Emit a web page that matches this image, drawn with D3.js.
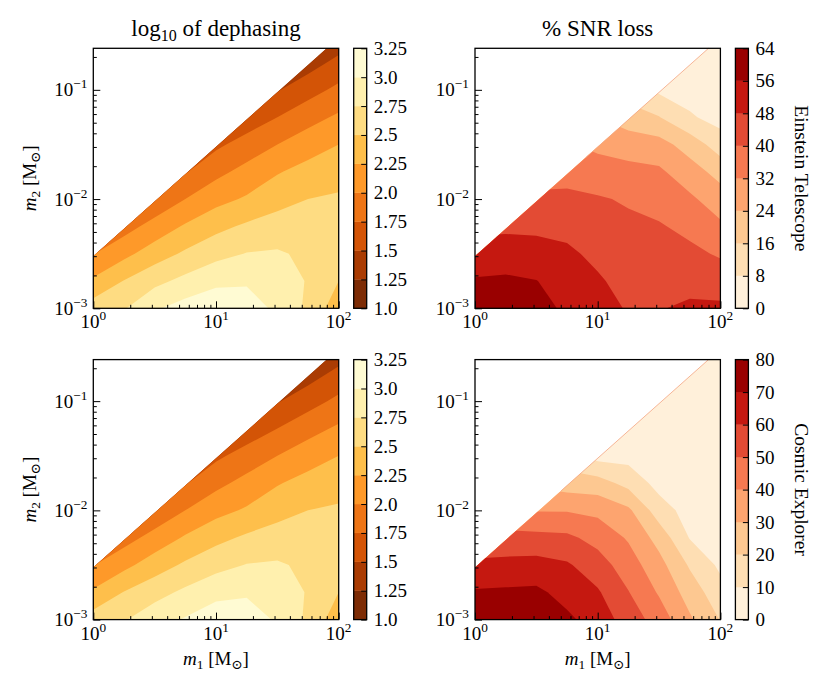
<!DOCTYPE html>
<html>
<head>
<meta charset="utf-8">
<script src="https://cdn.jsdelivr.net/npm/d3@7"></script>
<style>
  body { margin: 0; background: #fff; }
  text { font-family: "Liberation Serif", "DejaVu Serif", serif; fill: #000; }
</style>
</head>
<body>
<script>
// grid of the maps, in log10 of the masses (rows go up in m2)
var logM1 = [0, 0.25, 0.5, 0.75, 1, 1.25, 1.5, 1.75, 2];
var logM2 = [-3, -2.75, -2.5, -2.25, -2, -1.75, -1.5, -1.25, -1, -0.75, -0.5];
var massRatio = 0.003;   // no data above m2 = massRatio * m1
var m1Range = [1, 100];
var m2Range = [1e-3, 0.24];

var dephasingLevels = [1.0, 1.25, 1.5, 1.75, 2.0, 2.25, 2.5, 2.75, 3.0, 3.25];
var dephasingLabels = ["1.0", "1.25", "1.5", "1.75", "2.0", "2.25", "2.5", "2.75", "3.0", "3.25"];
var etLevels = [0, 8, 16, 24, 32, 40, 48, 56, 64];
var etLabels = ["0", "8", "16", "24", "32", "40", "48", "56", "64"];
var ceLevels = [0, 10, 20, 30, 40, 50, 60, 70, 80];
var ceLabels = ["0", "10", "20", "30", "40", "50", "60", "70", "80"];

var xMajor = [1, 10, 100];
var yMajor = [1e-3, 1e-2, 1e-1];

// log10 of dephasing, Einstein Telescope row
var dephasingET = [
  [2.62, 2.73, 2.97, 3.10, 3.15, 3.12, 2.95, 2.70, 2.35],
  [2.29, 2.51, 2.68, 2.82, 2.95, 2.97, 2.90, 2.73, 2.50],
  [1.99, 2.18, 2.38, 2.54, 2.67, 2.76, 2.78, 2.70, 2.60],
  [1.69, 1.90, 2.09, 2.28, 2.43, 2.54, 2.60, 2.60, 2.62],
  [1.39, 1.61, 1.81, 2.00, 2.17, 2.28, 2.42, 2.50, 2.54],
  [1.10, 1.32, 1.53, 1.73, 1.93, 2.08, 2.23, 2.34, 2.38],
  [0.80, 1.03, 1.25, 1.46, 1.70, 1.85, 2.00, 2.13, 2.25],
  [0.50, 0.74, 0.97, 1.19, 1.45, 1.60, 1.75, 1.91, 2.04],
  [0.20, 0.45, 0.69, 0.92, 1.20, 1.33, 1.48, 1.65, 1.81],
  [-0.10, 0.16, 0.41, 0.65, 0.95, 1.07, 1.20, 1.39, 1.57],
  [-0.40, -0.13, 0.13, 0.38, 0.70, 0.80, 0.93, 1.13, 1.32]
];

// log10 of dephasing, Cosmic Explorer row
var dephasingCE = [
  [2.62, 2.73, 2.90, 3.02, 3.14, 3.12, 2.97, 2.70, 2.35],
  [2.29, 2.51, 2.66, 2.80, 2.93, 2.97, 2.90, 2.73, 2.50],
  [1.99, 2.18, 2.38, 2.54, 2.67, 2.76, 2.78, 2.70, 2.60],
  [1.69, 1.90, 2.09, 2.28, 2.43, 2.54, 2.60, 2.60, 2.62],
  [1.39, 1.61, 1.81, 2.00, 2.17, 2.28, 2.42, 2.50, 2.54],
  [1.10, 1.32, 1.53, 1.73, 1.93, 2.08, 2.23, 2.34, 2.38],
  [0.80, 1.03, 1.25, 1.46, 1.70, 1.85, 2.00, 2.13, 2.25],
  [0.50, 0.74, 0.97, 1.19, 1.45, 1.60, 1.75, 1.91, 2.04],
  [0.20, 0.45, 0.69, 0.92, 1.20, 1.33, 1.48, 1.65, 1.81],
  [-0.10, 0.16, 0.41, 0.65, 0.95, 1.07, 1.20, 1.39, 1.57],
  [-0.40, -0.13, 0.13, 0.38, 0.70, 0.80, 0.93, 1.13, 1.32]
];

// % SNR loss, Einstein Telescope
var snrLossET = [
  [60, 60, 59, 54.5, 52.5, 47, 47.5, 49.5, 49.5],
  [56.8, 57.3, 56.2, 52.5, 49, 45.2, 45.2, 45.2, 44.1],
  [51, 51.9, 51.3, 49.5, 46.1, 43.4, 42.8, 41.8, 39.1],
  [46.5, 46.5, 46.3, 45.7, 43.4, 41.5, 40.7, 37.9, 33.4],
  [42, 42, 41.5, 41.6, 40.7, 39.2, 37, 33.4, 27.8],
  [37, 37, 37, 37.5, 35.8, 34.5, 33.3, 27.6, 21.1],
  [32, 32, 32, 33, 30, 28.2, 27, 20.5, 12],
  [27, 27, 27, 28, 24, 20, 16.3, 9, 5],
  [22, 22, 21, 22, 16, 12, 6.5, 4.5, 3.5],
  [17, 17, 15, 15, 9, 6, 4, 3.5, 2.5],
  [12, 12, 9, 9, 5, 3, 3, 2.5, 2]
];

// % SNR loss, Cosmic Explorer
var snrLossCE = [
  [74, 74.5, 75, 72, 65.5, 55.5, 45.5, 31.5, 19.5],
  [71, 71.5, 72, 66.5, 61.1, 50.4, 38.9, 25.6, 13.7],
  [62.5, 63.2, 63.6, 61.2, 54.5, 44.8, 33.5, 18.8, 8],
  [52, 52.7, 52.9, 52.1, 46.6, 38.9, 26.25, 9.5, 5.5],
  [42, 43, 39.5, 39.4, 37.5, 31.9, 14.7, 6, 4],
  [32, 33, 28, 25, 24.2, 16.7, 6.5, 4.5, 3.5],
  [23, 24, 18, 14, 6.5, 6.5, 4.5, 3.5, 3],
  [15, 16, 11, 8, 4, 4, 3.5, 3, 2.5],
  [9, 10, 7, 5, 3, 3, 2.5, 2.5, 2],
  [5, 6, 4, 3, 2, 2, 2, 2, 1.5],
  [3, 4, 2.5, 2, 1.5, 1.5, 1.5, 1.5, 1.5]
];

// colour maps (ColorBrewer nodes, linear in between like matplotlib)
var ylOrBr = ["#ffffe5", "#fff7bc", "#fee391", "#fec44f", "#fe9929", "#ec7014", "#cc4c02", "#993404", "#662506"];
var orRd = ["#fff7ec", "#fee8c8", "#fdd49e", "#fdbb84", "#fc8d59", "#ef6548", "#d7301f", "#b30000", "#7f0000"];

function colorMap(nodes) {
    return d3.scaleLinear()
        .domain(nodes.map(function(c, i) { return i / (nodes.length - 1); }))
        .range(nodes)
        .interpolate(d3.interpolateRgb);
}

var pw = 245.4, ph = 260;
var fs = 19;   // base font size
var svg = d3.select("body").append("svg")
    .attr("width", 830)
    .attr("height", 692);

var panels = [
    {id: "tl", left: 93.3, top: 48.3, values: dephasingET, levels: dephasingLevels, labels: dephasingLabels,
     cmap: colorMap(ylOrBr), reverse: true, title: "dephasing", ylabel: true},
    {id: "tr", left: 475, top: 48.3, values: snrLossET, levels: etLevels, labels: etLabels,
     cmap: colorMap(orRd), reverse: false, title: "snr", cbarLabel: "Einstein Telescope", edgeFrom: 8},
    {id: "bl", left: 93.3, top: 359.6, values: dephasingCE, levels: dephasingLevels, labels: dephasingLabels,
     cmap: colorMap(ylOrBr), reverse: true, ylabel: true, xlabel: true},
    {id: "br", left: 475, top: 359.6, values: snrLossCE, levels: ceLevels, labels: ceLabels,
     cmap: colorMap(orRd), reverse: false, xlabel: true, cbarLabel: "Cosmic Explorer", edgeFrom: 5}
];

panels.forEach(drawPanel);

function powerLabel(sel, v) {
    var e = Math.round(Math.log10(v));
    sel.text("10");
    sel.append("tspan").attr("dy", -8).attr("font-size", fs * 0.7)
        .text(e < 0 ? "\u2212" + (-e) : "" + e);
}

function massLabel(sel, index) {
    sel.append("tspan").attr("font-style", "italic").text("m");
    sel.append("tspan").attr("dy", 4).attr("font-size", fs * 0.7).text(index);
    sel.append("tspan").attr("dy", -4).text(" [M");
    sel.append("tspan").attr("dy", 4).attr("font-size", fs * 0.7).text("\u2299");
    sel.append("tspan").attr("dy", -4).text("]");
}

function drawPanel(p) {
    var x = d3.scaleLog().domain(m1Range).range([p.left, p.left + pw]);
    var y = d3.scaleLog().domain(m2Range).range([p.top + ph, p.top]);
    var nBands = p.levels.length - 1;
    function bandColor(i) {
        var t = (i + 0.5) / nBands;
        return p.cmap(p.reverse ? 1 - t : t);
    }

    // region where the maps have data: below m2 = massRatio * m1
    var top = m2Range[1] / massRatio;
    var edge = [[m1Range[0], m2Range[0]], [m1Range[0], massRatio * m1Range[0]],
                [top, m2Range[1]], [m1Range[1], m2Range[1]], [m1Range[1], m2Range[0]]];
    svg.append("clipPath").attr("id", "clip-" + p.id)
        .append("path")
        .attr("d", d3.line().x(function(d) { return x(d[0]); }).y(function(d) { return y(d[1]); })(edge) + "Z");

    // filled contours
    var sx = logM1[1] - logM1[0], sy = logM2[1] - logM2[0];
    var toScreen = d3.geoTransform({
        point: function(gx, gy) {
            var lx = logM1[0] + (gx - 0.5) * sx;
            var ly = logM2[0] + (gy - 0.5) * sy;
            this.stream.point(x(Math.pow(10, lx)), y(Math.pow(10, ly)));
        }
    });
    var path = d3.geoPath(toScreen);
    var bands = d3.contours()
        .size([logM1.length, logM2.length])
        .thresholds(p.levels.slice(0, -1))(p.values.flat());

    svg.append("g")
        .attr("clip-path", "url(#clip-" + p.id + ")")
        .selectAll("path")
        .data(bands)
        .join("path")
        .attr("d", path)
        .attr("fill", function(d, i) { return bandColor(i); });

    // faint seam along the edge of the data, as contourf leaves it
    if (p.edgeFrom) {
        svg.append("line")
            .attr("x1", x(p.edgeFrom)).attr("y1", y(massRatio * p.edgeFrom))
            .attr("x2", x(top)).attr("y2", y(m2Range[1]))
            .attr("stroke", "#f4a582").attr("stroke-width", 0.8);
    }

    // ticks, pointing inward
    var xMinor = [], yMinor = [];
    [1, 10].forEach(function(d) { d3.range(2, 10).forEach(function(k) { xMinor.push(k * d); }); });
    [1e-3, 1e-2, 1e-1].forEach(function(d) {
        d3.range(2, 10).forEach(function(k) { if (k * d <= m2Range[1]) yMinor.push(k * d); });
    });

    var ax = svg.append("g").attr("stroke-width", 1);
    ax.append("g").attr("transform", "translate(0," + (p.top + ph) + ")")
        .call(d3.axisBottom(x).tickValues(xMajor).tickSize(-7).tickSizeOuter(0).tickFormat(""));
    ax.append("g").attr("transform", "translate(0," + (p.top + ph) + ")")
        .call(d3.axisBottom(x).tickValues(xMinor).tickSize(-3.5).tickSizeOuter(0).tickFormat(""));
    ax.append("g").attr("transform", "translate(" + p.left + ",0)")
        .call(d3.axisLeft(y).tickValues(yMajor).tickSize(-7).tickSizeOuter(0).tickFormat(""));
    ax.append("g").attr("transform", "translate(" + p.left + ",0)")
        .call(d3.axisLeft(y).tickValues(yMinor).tickSize(-3.5).tickSizeOuter(0).tickFormat(""));
    ax.selectAll(".domain").remove();
    ax.selectAll("line").attr("stroke", "#000");

    svg.append("rect")
        .attr("x", p.left).attr("y", p.top)
        .attr("width", pw).attr("height", ph)
        .attr("fill", "none").attr("stroke", "#000").attr("stroke-width", 1.3);

    // tick labels
    svg.append("g").selectAll("text")
        .data(xMajor).join("text")
        .attr("x", function(d) { return x(d); })
        .attr("y", p.top + ph + 20)
        .attr("text-anchor", "middle")
        .attr("font-size", fs)
        .each(function(d) { powerLabel(d3.select(this), d); });
    svg.append("g").selectAll("text")
        .data(yMajor).join("text")
        .attr("x", p.left - 6)
        .attr("y", function(d) { return y(d) + 6.5; })
        .attr("text-anchor", "end")
        .attr("font-size", fs)
        .each(function(d) { powerLabel(d3.select(this), d); });

    // colorbar
    var cx = p.left + pw + 15, cw = 13;
    var cy = d3.scaleLinear().domain([p.levels[0], p.levels[nBands]]).range([p.top + ph, p.top]);
    var cbar = svg.append("g");
    cbar.selectAll("rect")
        .data(d3.range(nBands)).join("rect")
        .attr("x", cx).attr("width", cw)
        .attr("y", function(i) { return cy(p.levels[i + 1]); })
        .attr("height", function(i) { return cy(p.levels[i]) - cy(p.levels[i + 1]); })
        .attr("fill", function(i) { return bandColor(i); })
        .attr("stroke", function(i) { return bandColor(i); })
        .attr("stroke-width", 0.3);
    cbar.append("g")
        .attr("transform", "translate(" + (cx + cw) + ",0)")
        .call(d3.axisRight(cy).tickValues(p.levels).tickSize(-5.5).tickSizeOuter(0).tickFormat(""))
        .call(function(g) { g.select(".domain").remove(); g.selectAll("line").attr("stroke", "#000"); });
    cbar.append("rect")
        .attr("x", cx).attr("y", p.top).attr("width", cw).attr("height", ph)
        .attr("fill", "none").attr("stroke", "#000").attr("stroke-width", 1.3);
    cbar.append("g").selectAll("text")
        .data(p.levels).join("text")
        .attr("x", cx + cw + 7)
        .attr("y", function(d) { return cy(d) + 6.5; })
        .attr("font-size", fs)
        .text(function(d, i) { return p.labels[i]; });

    if (p.cbarLabel) {
        svg.append("text")
            .attr("transform", "translate(" + 795 + "," + (p.top + ph / 2) + ") rotate(90)")
            .attr("text-anchor", "middle")
            .attr("font-size", fs + 0.5)
            .text(p.cbarLabel);
    }

    // titles and axis labels
    if (p.title === "dephasing") {
        var t = svg.append("text")
            .attr("x", p.left + pw / 2).attr("y", 36)
            .attr("text-anchor", "middle")
            .attr("font-size", 23);
        t.append("tspan").text("log");
        t.append("tspan").attr("dy", 5).attr("font-size", 16).text("10");
        t.append("tspan").attr("dy", -5).text(" of dephasing");
    } else if (p.title === "snr") {
        svg.append("text")
            .attr("x", p.left + pw / 2).attr("y", 36)
            .attr("text-anchor", "middle")
            .attr("font-size", 23)
            .text("% SNR loss");
    }
    if (p.ylabel) {
        svg.append("text")
            .attr("transform", "translate(36," + (p.top + ph / 2) + ") rotate(-90)")
            .attr("text-anchor", "middle")
            .attr("font-size", fs)
            .call(massLabel, "2");
    }
    if (p.xlabel) {
        svg.append("text")
            .attr("x", p.left + pw / 2).attr("y", p.top + ph + 45)
            .attr("text-anchor", "middle")
            .attr("font-size", fs)
            .call(massLabel, "1");
    }
}
</script>
</body>
</html>
